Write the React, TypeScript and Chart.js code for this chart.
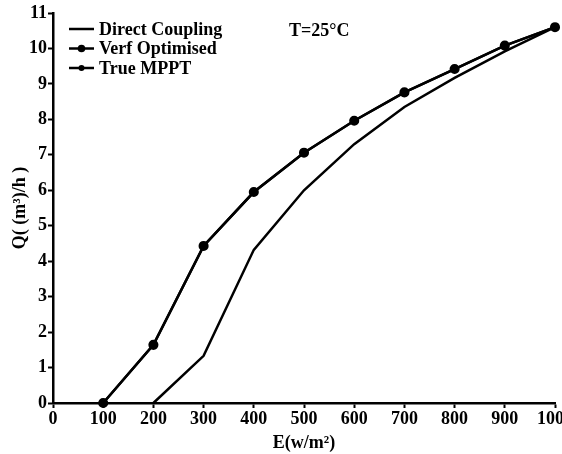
import React, { useEffect, useRef } from 'react';
import { Chart, registerables } from 'chart.js';

Chart.register(...registerables);

// ---- Data ----
const irradiance = [0, 100, 200, 300, 400, 500, 600, 700, 800, 900, 1000];
const directCoupling: (number | null)[] = [null, null, 0, 1.33, 4.32, 6.0, 7.3, 8.35, 9.17, 9.92, 10.6];
const verfOptimised: (number | null)[] = [null, 0, 1.64, 4.43, 5.95, 7.06, 7.96, 8.76, 9.42, 10.08, 10.6];
const trueMPPT: (number | null)[] = [null, 0, 1.64, 4.43, 5.95, 7.06, 7.96, 8.76, 9.42, 10.08, 10.6];
const seriesLabels = ['Direct Coupling', 'Verf Optimised', 'True MPPT'];
const annotationText = 'T=25°C';
const xTitle = 'E(w/m²)';
const yTitle = 'Q( (m³)/h )';

const FONT = "'Liberation Serif', 'Times New Roman', serif";
const FS = 18;

const toPoints = (ys: (number | null)[]) =>
  irradiance
    .map((x, i) => ({ x, y: ys[i] }))
    .filter((p) => p.y !== null) as { x: number; y: number }[];

const legendPlugin = {
  id: 'customLegend',
  afterDraw(chart: any) {
    const ctx = chart.ctx as CanvasRenderingContext2D;
    const area = chart.chartArea;
    ctx.save();
    ctx.font = `bold ${FS}px ${FONT}`;
    ctx.fillStyle = '#000';
    ctx.strokeStyle = '#000';
    ctx.lineWidth = 2.5;
    ctx.textBaseline = 'middle';
    ctx.textAlign = 'left';
    const x0 = area.left + 16;
    chart.data.datasets.forEach((ds: any, i: number) => {
      const y = 29 + i * 19.5;
      ctx.beginPath();
      ctx.moveTo(x0, y);
      ctx.lineTo(x0 + 25, y);
      ctx.stroke();
      const r = ds.pointRadius || 0;
      if (r > 0) {
        ctx.beginPath();
        ctx.arc(x0 + 12.5, y, r, 0, Math.PI * 2);
        ctx.fill();
      }
      ctx.fillText(ds.label, x0 + 30, y + 1);
    });
    ctx.fillText(annotationText, 289, 31);
    ctx.restore();
  },
};

export default function App() {
  const canvasRef = useRef<HTMLCanvasElement | null>(null);

  useEffect(() => {
    if (!canvasRef.current) return;
    const tickFont = { family: FONT, size: FS, weight: 'bold' as const };
    const chart = new Chart(canvasRef.current, {
      type: 'line',
      data: {
        datasets: [
          {
            label: seriesLabels[0],
            data: toPoints(directCoupling),
            borderColor: '#000',
            backgroundColor: '#000',
            borderWidth: 2.5,
            pointRadius: 0,
            tension: 0,
            clip: false as any,
          },
          {
            label: seriesLabels[1],
            data: toPoints(verfOptimised),
            borderColor: '#000',
            backgroundColor: '#000',
            borderWidth: 2.5,
            pointRadius: 3.8,
            pointStyle: 'circle',
            tension: 0,
            clip: false as any,
          },
          {
            label: seriesLabels[2],
            data: toPoints(trueMPPT),
            borderColor: '#000',
            backgroundColor: '#000',
            borderWidth: 2.5,
            pointRadius: 3,
            pointStyle: 'circle',
            tension: 0,
            clip: false as any,
          },
        ],
      },
      options: {
        animation: false,
        responsive: true,
        maintainAspectRatio: false,
        layout: { padding: { top: 13, right: 45, left: 0, bottom: 0 } },
        plugins: { legend: { display: false }, tooltip: { enabled: false } },
        scales: {
          x: {
            type: 'linear',
            min: 0,
            max: 1000,
            ticks: {
              stepSize: 100,
              color: '#000',
              font: tickFont,
              padding: 1,
              maxRotation: 0,
              autoSkip: false,
              callback: (v: any) => String(v),
            },
            grid: {
              display: true,
              drawOnChartArea: false,
              drawTicks: true,
              tickLength: 5,
              tickColor: '#000',
              tickWidth: 2,
            },
            border: { display: true, color: '#000', width: 2.5 },
            title: {
              display: true,
              text: xTitle,
              color: '#000',
              font: tickFont,
              padding: { top: 0, bottom: 0 },
            },
            afterFit: (s: any) => {
              s.height = 51;
              s.paddingLeft = 0;
              s.paddingRight = 0;
            },
          },
          y: {
            type: 'linear',
            min: 0,
            max: 11,
            ticks: {
              stepSize: 1,
              color: '#000',
              font: tickFont,
              padding: 1,
              callback: (v: any) => String(v),
            },
            grid: {
              display: true,
              drawOnChartArea: false,
              drawTicks: true,
              tickLength: 5,
              tickColor: '#000',
              tickWidth: 2,
            },
            border: { display: true, color: '#000', width: 2.5 },
            title: {
              display: true,
              text: yTitle,
              color: '#000',
              font: tickFont,
              padding: { top: 10, bottom: 0 },
            },
            afterFit: (s: any) => {
              s.width = 53;
              s.paddingTop = 0;
              s.paddingBottom = 0;
            },
          },
        },
      },
      plugins: [legendPlugin],
    });
    return () => chart.destroy();
  }, []);

  return (
    <div
      style={{
        position: 'absolute',
        left: 0,
        top: 0,
        width: 562,
        height: 454,
        overflow: 'hidden',
        background: '#fff',
      }}
    >
      <div style={{ position: 'relative', width: 600, height: 454 }}>
        <canvas ref={canvasRef} />
      </div>
    </div>
  );
}
